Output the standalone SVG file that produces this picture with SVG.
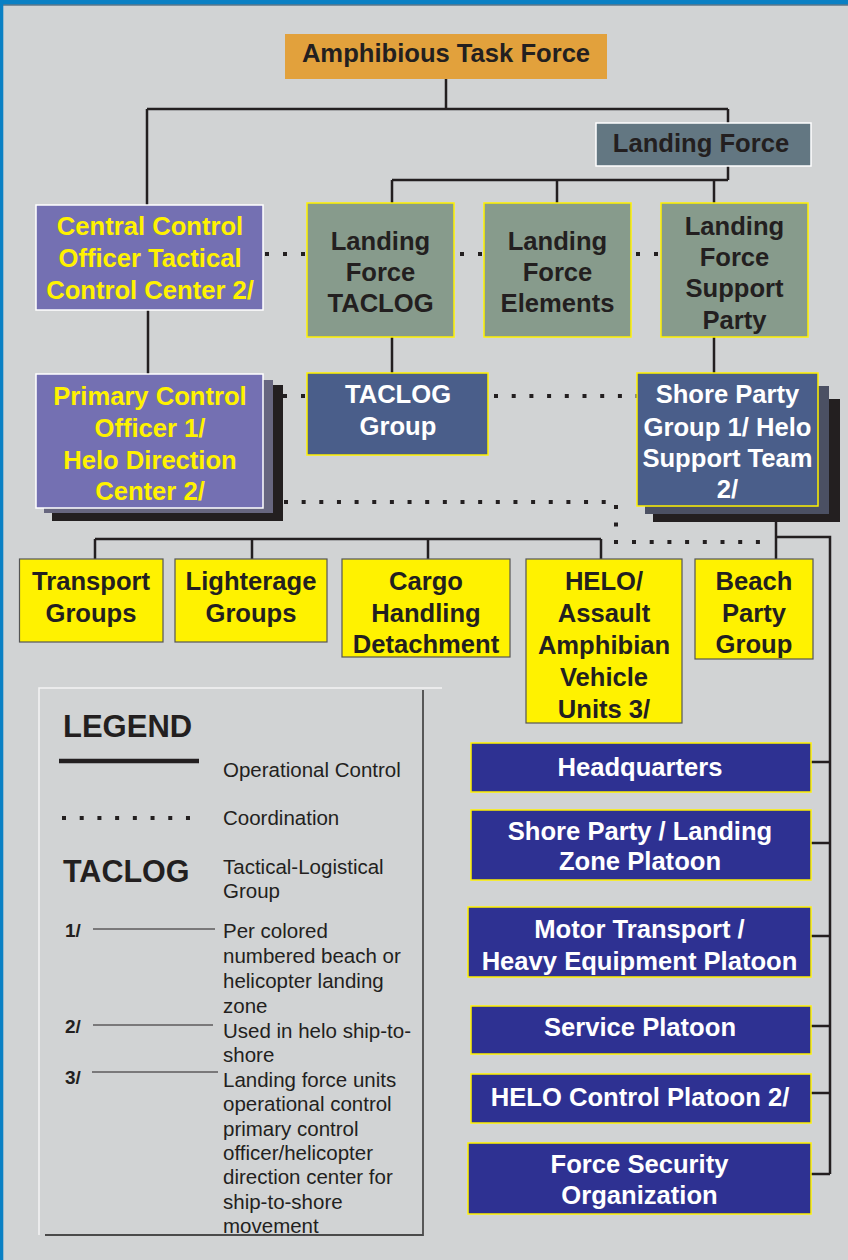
<svg xmlns="http://www.w3.org/2000/svg" width="848" height="1260" viewBox="0 0 848 1260">
<style>
.t{font-family:"Liberation Sans",Arial,sans-serif;font-weight:bold;font-size:25.6px;text-anchor:middle}
.dk{fill:#231f20}.yl{fill:#fff200}.wh{fill:#ffffff}
.ln{fill:none;stroke:#231f20;stroke-width:2.5;stroke-linejoin:miter}
.dot{fill:none;stroke:#231f20;stroke-width:4;stroke-dasharray:4 13.7}
.purple{fill:#7470b2;stroke:#ffffff;stroke-width:1.5}
.green{fill:#879b8c;stroke:#fff200;stroke-width:1.5}
.slate{fill:#4a5e8a;stroke:#fff200;stroke-width:1.5}
.yel{fill:#fff200;stroke:#555555;stroke-width:1.2}
.navy{fill:#2e3192;stroke:#fff200;stroke-width:1.5}
.lg{font-family:"Liberation Sans",Arial,sans-serif;font-size:20.5px;fill:#231f20}
.lgb{font-family:"Liberation Sans",Arial,sans-serif;font-weight:bold;fill:#231f20}
</style>
<rect x="0" y="0" width="848" height="1260" fill="#d1d3d4"/>
<rect x="0" y="0" width="848" height="4.5" fill="#0a80c4"/>
<line x1="0" y1="5" x2="848" y2="5" stroke="#234a66" stroke-width="1"/>
<rect x="0" y="0" width="3.3" height="1260" fill="#0a80c4"/>

<g id="connectors">
<path class="ln" d="M446 79 V109 M147 109 H728 M147 109 V205 M728 109 V123 M728 166 V180 M392 180 H728 M392 180 V203 M557 180 V203 M714 180 V203 M148 310 V374 M392 337 V373 M714 337 V373 M95 539 H601 M95 539 V559 M252 539 V559 M428 539 V559 M601 539 V559 M776 506 V559 M776 537 H830 V1174 M811 762 H830 M811 843 H830 M811 936 H830 M811 1026 H830 M811 1093 H830 M811 1174 H830"/>
<path class="dot" style="stroke-dasharray:4 14" d="M265 254 H307 M460 254 H484 M636 254 H661 M283 396 H307"/>
<path class="dot" d="M494 396 H637 M632 542 H762"/>
<path class="dot" style="stroke-dasharray:4 13.65" d="M284 502 H607"/>
<path class="dot" style="stroke-dasharray:4 13.5" d="M616 505 V545"/>
</g>

<g id="amphibious-task-force">
<rect x="285" y="34" width="322" height="45" fill="#e2a13c"/>
<text class="t dk" x="446" y="62">Amphibious Task Force</text>
</g>
<g id="landing-force">
<rect x="596" y="123" width="215" height="43" fill="#637782" stroke="#ffffff" stroke-width="1.5"/>
<text class="t dk" x="701" y="152">Landing Force</text>
</g>
<g id="central-control">
<rect class="purple" x="36" y="205" width="227" height="105"/>
<text class="t yl" x="150" y="235">Central Control</text>
<text class="t yl" x="150" y="267">Officer Tactical</text>
<text class="t yl" x="150" y="299">Control Center 2/</text>
</g>
<g id="lf-taclog">
<rect class="green" x="307" y="203" width="147" height="134"/>
<text class="t dk" x="380.5" y="250">Landing</text>
<text class="t dk" x="380.5" y="281">Force</text>
<text class="t dk" x="380.5" y="312">TACLOG</text>
</g>
<g id="lf-elements">
<rect class="green" x="484" y="203" width="147" height="134"/>
<text class="t dk" x="557.5" y="250">Landing</text>
<text class="t dk" x="557.5" y="281">Force</text>
<text class="t dk" x="557.5" y="312">Elements</text>
</g>
<g id="lf-support-party">
<rect class="green" x="661" y="203" width="147" height="134"/>
<text class="t dk" x="734.5" y="235">Landing</text>
<text class="t dk" x="734.5" y="266">Force</text>
<text class="t dk" x="734.5" y="297">Support</text>
<text class="t dk" x="734.5" y="329">Party</text>
</g>
<g id="primary-control">
<rect x="52" y="385" width="231" height="136" fill="#231f20"/>
<rect x="44" y="380" width="229" height="133" fill="#67667f"/>
<rect class="purple" x="36" y="374" width="227" height="134"/>
<text class="t yl" x="150" y="405">Primary Control</text>
<text class="t yl" x="150" y="437">Officer 1/</text>
<text class="t yl" x="150" y="469">Helo Direction</text>
<text class="t yl" x="150" y="500">Center 2/</text>
</g>
<g id="taclog-group">
<rect class="slate" x="307" y="373" width="181" height="82"/>
<text class="t wh" x="398" y="403">TACLOG</text>
<text class="t wh" x="398" y="435">Group</text>
</g>
<g id="shore-party-group">
<rect x="653" y="399" width="187" height="123" fill="#231f20"/>
<rect x="645" y="386" width="184" height="128" fill="#4b5063"/>
<rect class="slate" x="637" y="373" width="181" height="133"/>
<text class="t wh" x="727.5" y="403">Shore Party</text>
<text class="t wh" x="727.5" y="436">Group 1/ Helo</text>
<text class="t wh" x="727.5" y="467">Support Team</text>
<text class="t wh" x="727.5" y="498">2/</text>
</g>
<g id="transport-groups">
<rect class="yel" x="19.5" y="559" width="143.5" height="83"/>
<text class="t dk" x="91" y="590">Transport</text>
<text class="t dk" x="91" y="622">Groups</text>
</g>
<g id="lighterage-groups">
<rect class="yel" x="175" y="559" width="152" height="83"/>
<text class="t dk" x="251" y="590">Lighterage</text>
<text class="t dk" x="251" y="622">Groups</text>
</g>
<g id="cargo-handling">
<rect class="yel" x="342" y="559" width="168" height="98"/>
<text class="t dk" x="426" y="590">Cargo</text>
<text class="t dk" x="426" y="622">Handling</text>
<text class="t dk" x="426" y="653">Detachment</text>
</g>
<g id="helo-aav">
<rect class="yel" x="526" y="559" width="156" height="164"/>
<text class="t dk" x="604" y="590">HELO/</text>
<text class="t dk" x="604" y="622">Assault</text>
<text class="t dk" x="604" y="654">Amphibian</text>
<text class="t dk" x="604" y="686">Vehicle</text>
<text class="t dk" x="604" y="718">Units 3/</text>
</g>
<g id="beach-party-group">
<rect class="yel" x="695" y="559" width="118" height="100"/>
<text class="t dk" x="754" y="590">Beach</text>
<text class="t dk" x="754" y="622">Party</text>
<text class="t dk" x="754" y="653">Group</text>
</g>
<g id="headquarters">
<rect class="navy" x="471" y="743" width="340" height="49"/>
<text class="t wh" x="640" y="776">Headquarters</text>
</g>
<g id="shore-party-lz-platoon">
<rect class="navy" x="471" y="810" width="340" height="70"/>
<text class="t wh" x="640" y="840">Shore Party / Landing</text>
<text class="t wh" x="640" y="870">Zone Platoon</text>
</g>
<g id="motor-transport">
<rect class="navy" x="468" y="907" width="343" height="70"/>
<text class="t wh" x="639.5" y="938">Motor Transport /</text>
<text class="t wh" x="639.5" y="970">Heavy Equipment Platoon</text>
</g>
<g id="service-platoon">
<rect class="navy" x="471" y="1006" width="340" height="48"/>
<text class="t wh" x="640" y="1036">Service Platoon</text>
</g>
<g id="helo-control-platoon">
<rect class="navy" x="471" y="1074" width="340" height="49"/>
<text class="t wh" x="640" y="1106">HELO Control Platoon 2/</text>
</g>
<g id="force-security">
<rect class="navy" x="468" y="1143" width="343" height="71"/>
<text class="t wh" x="639.5" y="1173">Force Security</text>
<text class="t wh" x="639.5" y="1204">Organization</text>
</g>

<g id="legend">
<path d="M39 1235 V688 H442" fill="none" stroke="#f4f4f4" stroke-width="1.5"/>
<path d="M423 690 V1235 H45" fill="none" stroke="#4a4a4a" stroke-width="1.8"/>
<text class="lgb" x="63" y="737" font-size="31">LEGEND</text>
<line x1="59" y1="761" x2="199" y2="761" stroke="#231f20" stroke-width="4.5"/>
<text class="lg" x="223" y="777">Operational Control</text>
<path class="dot" style="stroke-dasharray:4 13.71" d="M62 818 H192"/>
<text class="lg" x="223" y="825">Coordination</text>
<text class="lgb" x="63" y="882" font-size="30.5">TACLOG</text>
<text class="lg" x="223" y="874">Tactical-Logistical</text>
<text class="lg" x="223" y="898">Group</text>
<text class="lgb" x="65" y="937" font-size="19">1/</text>
<line x1="93" y1="929" x2="215" y2="929" stroke="#231f20" stroke-width="1"/>
<text class="lg" x="223" y="938">Per colored</text>
<text class="lg" x="223" y="963">numbered beach or</text>
<text class="lg" x="223" y="988">helicopter landing</text>
<text class="lg" x="223" y="1013">zone</text>
<text class="lgb" x="65" y="1033" font-size="19">2/</text>
<line x1="93" y1="1025" x2="213" y2="1025" stroke="#231f20" stroke-width="1"/>
<text class="lg" x="223" y="1038">Used in helo ship-to-</text>
<text class="lg" x="223" y="1062">shore</text>
<text class="lgb" x="65" y="1084" font-size="19">3/</text>
<line x1="92" y1="1072" x2="218" y2="1072" stroke="#231f20" stroke-width="1"/>
<text class="lg" x="223" y="1087">Landing force units</text>
<text class="lg" x="223" y="1111">operational control</text>
<text class="lg" x="223" y="1136">primary control</text>
<text class="lg" x="223" y="1160">officer/helicopter</text>
<text class="lg" x="223" y="1184">direction center for</text>
<text class="lg" x="223" y="1209">ship-to-shore</text>
<text class="lg" x="223" y="1233">movement</text>
</g>
</svg>
